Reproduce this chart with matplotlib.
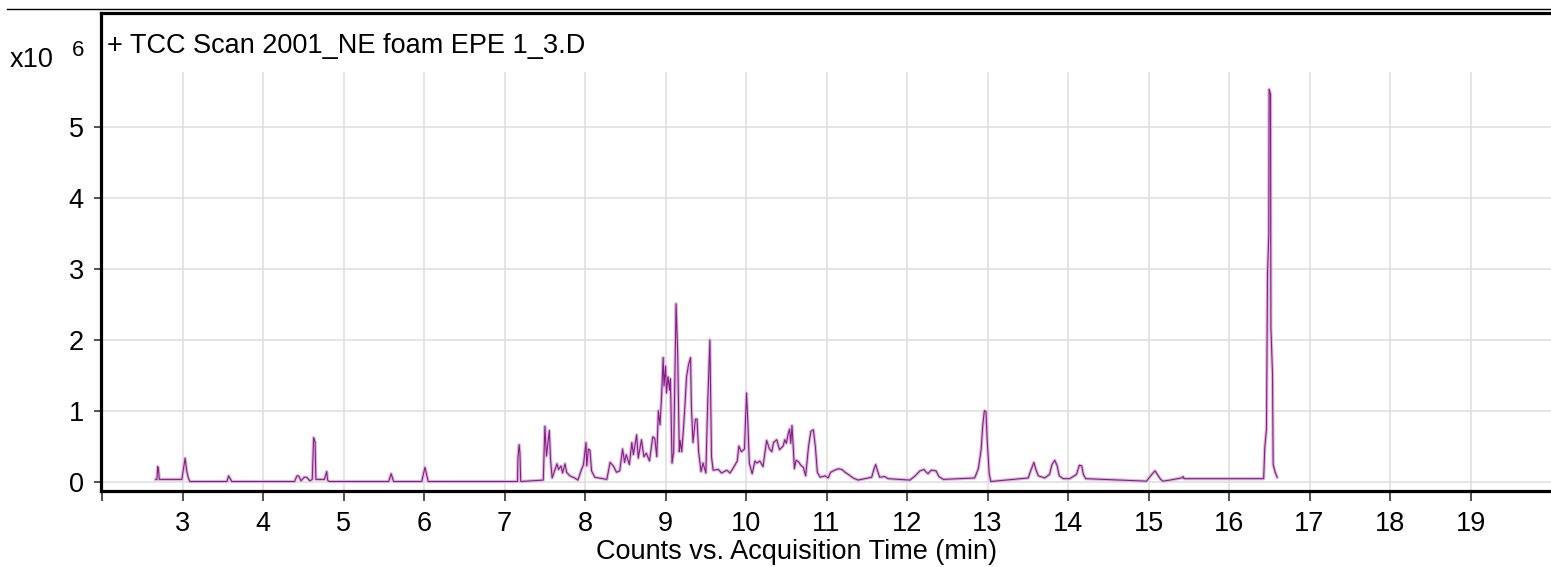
import matplotlib
matplotlib.use("Agg")
import matplotlib.pyplot as plt
from matplotlib.lines import Line2D

plt.rcParams['font.family'] = ['Liberation Sans', 'DejaVu Sans']

# TIC trace, counts in units of 1e6
time_min = [2.665, 2.68, 2.69, 2.70, 2.71, 2.99, 3.01, 3.03, 3.05, 3.07, 3.09,
            3.55, 3.57, 3.59, 3.61, 4.39, 4.42, 4.44, 4.47, 4.51, 4.54, 4.58,
            4.61, 4.627, 4.645, 4.655, 4.76, 4.79, 4.80, 4.82, 5.56, 5.59, 5.62,
            5.97, 6.01, 6.05, 7.16, 7.165, 7.18, 7.19, 7.20, 7.48, 7.50, 7.52,
            7.555, 7.57, 7.59, 7.62, 7.65, 7.67, 7.70, 7.72, 7.75, 7.77, 7.81,
            7.87, 7.91, 7.955, 7.98, 8.01, 8.02, 8.04, 8.06, 8.08, 8.12, 8.27,
            8.31, 8.35, 8.39, 8.43, 8.465, 8.49, 8.51, 8.55, 8.58, 8.60, 8.64,
            8.66, 8.70, 8.73, 8.76, 8.80, 8.84, 8.865, 8.89, 8.91, 8.93, 8.95,
            8.97, 8.98, 9.00, 9.01, 9.03, 9.05, 9.06, 9.08, 9.10, 9.13, 9.15,
            9.17, 9.18, 9.20, 9.22, 9.24, 9.26, 9.285, 9.31, 9.32, 9.34, 9.37,
            9.39, 9.41, 9.44, 9.465, 9.50, 9.52, 9.55, 9.57, 9.59, 9.655, 9.695,
            9.76, 9.80, 9.84, 9.89, 9.91, 9.94, 9.98, 10.005, 10.02, 10.04,
            10.075, 10.11, 10.135, 10.17, 10.21, 10.255, 10.29, 10.32, 10.34,
            10.38, 10.415, 10.46, 10.48, 10.50, 10.52, 10.54, 10.555, 10.57,
            10.585, 10.60, 10.62, 10.65, 10.68, 10.71, 10.74, 10.776, 10.805,
            10.835, 10.86, 10.885, 10.92, 10.98, 11.02, 11.05, 11.10, 11.145,
            11.19, 11.23, 11.27, 11.33, 11.39, 11.56, 11.59, 11.61, 11.63, 11.66,
            11.72, 11.765, 12.035, 12.10, 12.16, 12.21, 12.24, 12.26, 12.30,
            12.36, 12.395, 12.45, 12.84, 12.885, 12.92, 12.94, 12.96, 12.98,
            12.995, 13.02, 13.04, 13.505, 13.525, 13.575, 13.60, 13.63, 13.71,
            13.77, 13.80, 13.835, 13.865, 13.89, 13.94, 14.02, 14.105, 14.14,
            14.17, 14.19, 14.22, 14.975, 15.04, 15.08, 15.11, 15.15, 15.18,
            15.265, 15.41, 15.43, 15.44, 16.43, 16.444, 16.465, 16.478, 16.494,
            16.498, 16.515, 16.52, 16.54, 16.548, 16.573, 16.598]

counts = [0.03, 0.03, 0.21, 0.16, 0.03, 0.03, 0.18, 0.33, 0.15, 0.05, 0.0,
          0.0, 0.08, 0.04, 0.0, 0.0, 0.08, 0.08, 0.01, 0.06, 0.06, 0.01,
          0.03, 0.62, 0.56, 0.03, 0.03, 0.14, 0.02, 0.0, 0.0, 0.11, 0.0,
          0.0, 0.20, 0.0, 0.0, 0.33, 0.52, 0.40, 0.0, 0.02, 0.78, 0.36,
          0.72, 0.32, 0.05, 0.15, 0.25, 0.17, 0.22, 0.12, 0.25, 0.13, 0.08,
          0.05, 0.02, 0.17, 0.24, 0.55, 0.22, 0.46, 0.44, 0.15, 0.06, 0.03,
          0.27, 0.22, 0.13, 0.15, 0.46, 0.27, 0.38, 0.24, 0.55, 0.38, 0.66,
          0.33, 0.59, 0.35, 0.40, 0.29, 0.63, 0.61, 0.35, 1.00, 0.80, 1.21,
          1.75, 1.35, 1.63, 1.25, 1.48, 1.29, 1.45, 0.26, 0.42, 2.51, 1.81,
          0.42, 0.58, 0.42, 0.72, 1.07, 1.48, 1.65, 1.75, 1.07, 0.55, 0.88,
          0.88, 0.42, 0.14, 0.26, 0.12, 1.00, 2.00, 0.35, 0.16, 0.17, 0.12,
          0.16, 0.12, 0.19, 0.29, 0.50, 0.42, 0.46, 1.25, 0.88, 0.26,
          0.11, 0.29, 0.26, 0.29, 0.21, 0.58, 0.46, 0.42, 0.55,
          0.59, 0.45, 0.50, 0.59, 0.54, 0.66, 0.74, 0.54, 0.79,
          0.50, 0.18, 0.30, 0.28, 0.23, 0.20, 0.08, 0.50, 0.71,
          0.73, 0.50, 0.13, 0.06, 0.08, 0.05, 0.13, 0.16, 0.18,
          0.17, 0.13, 0.10, 0.05, 0.02, 0.06, 0.18, 0.24, 0.16, 0.06,
          0.07, 0.04, 0.02, 0.08, 0.15, 0.17, 0.13, 0.11, 0.16,
          0.15, 0.07, 0.03, 0.05, 0.18, 0.45, 0.79, 1.00, 0.99,
          0.59, 0.11, 0.0, 0.05, 0.12, 0.27, 0.17, 0.08, 0.05,
          0.10, 0.24, 0.30, 0.22, 0.08, 0.04, 0.04, 0.10, 0.23,
          0.22, 0.10, 0.04, 0.005, 0.10, 0.15, 0.10, 0.03, 0.005,
          0.02, 0.05, 0.07, 0.04, 0.04, 0.48, 0.74, 2.93, 3.49,
          5.54, 5.47, 2.17, 1.52, 0.24, 0.13, 0.06]

x_ticks = list(range(2, 20))
x_labels = [''] + [str(t) for t in range(3, 20)]
y_ticks = [0, 1, 2, 3, 4, 5]
title = "+ TCC Scan 2001_NE foam EPE 1_3.D"
xlabel = "Counts vs. Acquisition Time (min)"

W, H = 1551, 567
fig = plt.figure(figsize=(W / 100, H / 100), dpi=100)

# axes box in pixels
left_px, right_px, top_px, bottom_px = 100.5, 1551, 12.5, 490.5
ax = fig.add_axes([left_px / W, 1 - bottom_px / H,
                   (right_px - left_px) / W, (bottom_px - top_px) / H])

ax.set_xlim(1.979, 20.0)
ax.set_ylim(-0.127, 6.624)

# grid (vertical lines stop below the title band)
grid_top = (bottom_px - 73) / (bottom_px - top_px)
for t in x_ticks[1:]:
    ax.axvline(t, ymin=0, ymax=grid_top, color='#e0e0e0', lw=1.2, zorder=0)
for v in y_ticks:
    ax.axhline(v, color='#e0e0e0', lw=1.2, zorder=0)

# trace: light band under a thin dark line
ax.plot(time_min, counts, color='#d9bcd9', lw=2.4, zorder=2)
ax.plot(time_min, counts, color='#8b1a8b', lw=0.8, zorder=3)

ax.set_xticks(x_ticks)
ax.set_xticklabels(x_labels)
ax.set_yticks(y_ticks)
ax.tick_params(axis='x', direction='out', length=7, width=1.1, pad=8,
               labelsize=19.5, color='#222222')
ax.tick_params(axis='y', direction='out', length=5, width=1.1, pad=7,
               labelsize=19.5, color='#222222')

for s in ['left', 'top', 'bottom']:
    ax.spines[s].set_linewidth(2.3)
    ax.spines[s].set_color('black')
ax.spines['right'].set_visible(False)

ax.set_xlabel(xlabel, fontsize=19.5, labelpad=1)
ax.xaxis.label.set_x((797 - left_px) / (right_px - left_px))

# header text
fig.text(107 / W, 1 - 46 / H, title, fontsize=19.5, va='center', ha='left')
fig.text(10 / W, 1 - 60 / H, "x10", fontsize=19.5, va='center', ha='left')
fig.text(72 / W, 1 - 51 / H, "6", fontsize=16, va='center', ha='left')

# thin rule above the plot
fig.add_artist(Line2D([7 / W, 1.0], [1 - 9.3 / H, 1 - 9.3 / H],
                      transform=fig.transFigure, color='black', lw=1.0))

fig.savefig("out.png", dpi=100)
